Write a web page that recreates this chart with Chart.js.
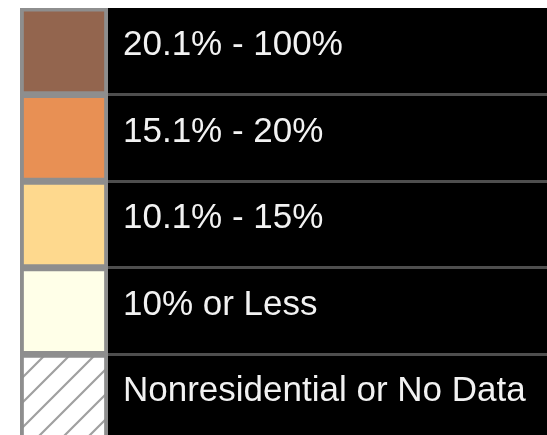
<!DOCTYPE html>
<html>
<head>
<meta charset="utf-8">
<script src="https://cdn.jsdelivr.net/npm/chart.js@4/dist/chart.umd.min.js"></script>
<style>
  html, body { margin: 0; padding: 0; background: #fff; overflow: hidden; }
  #wrap { width: 547px; height: 441px; }
</style>
</head>
<body>
<div id="wrap"><canvas id="myChart" width="547" height="441"></canvas></div>
<script>
// legend classes, top to bottom
var labels = ["20.1% - 100%", "15.1% - 20%", "10.1% - 15%", "10% or Less", "Nonresidential or No Data"];
var swatchColors = ["#93654e", "#e89054", "#fed98e", "#ffffe8", "hatch"];
var swatchValues = [1, 1, 1, 1, 1];

function makeHatch(ctx) {
    var c = document.createElement("canvas");
    c.width = 25; c.height = 25;
    var p = c.getContext("2d");
    p.fillStyle = "#ffffff";
    p.fillRect(0, 0, 25, 25);
    p.strokeStyle = "#a0a0a0";
    p.lineWidth = 2.2;
    p.beginPath();
    p.moveTo(-2, 27); p.lineTo(27, -2);
    p.moveTo(-5, 5); p.lineTo(5, -5);
    p.moveTo(20, 30); p.lineTo(30, 20);
    p.stroke();
    return ctx.createPattern(c, "repeat");
}

var canvas = document.getElementById("myChart");
var ctx = canvas.getContext("2d");
var hatch = makeHatch(ctx);

var fills = [];
for (var i = 0; i < swatchColors.length; i++) {
    fills.push(swatchColors[i] == "hatch" ? hatch : swatchColors[i]);
}

var backdrop = {
    id: "backdrop",
    beforeDraw: function (chart) {
        var c = chart.ctx, a = chart.chartArea;
        c.save();
        c.fillStyle = "#ffffff";
        c.fillRect(0, 0, chart.width, chart.height);
        c.fillStyle = "#000000";
        c.fillRect(a.right, a.top, chart.width - a.right, chart.height - a.top);
        c.fillStyle = "#8e8e8e";
        c.fillRect(a.left, a.top, a.right - a.left, a.bottom - a.top);
        c.restore();
    }
};

var myNewChart = new Chart(ctx, {
    type: "bar",
    data: {
        labels: labels,
        datasets: [{
            data: swatchValues,
            backgroundColor: fills,
            borderWidth: 0,
            categoryPercentage: 1,
            barPercentage: 0.92
        }]
    },
    options: {
        indexAxis: "y",
        responsive: false,
        animation: false,
        layout: { padding: { left: 20, top: 8, right: 0, bottom: 0 } },
        plugins: { legend: { display: false }, tooltip: { enabled: false } },
        scales: {
            x: { display: false, min: -0.048, max: 1.048 },
            y: {
                position: "right",
                border: { display: false },
                grid: {
                    drawOnChartArea: false,
                    drawTicks: true,
                    tickLength: 439,
                    lineWidth: 3,
                    color: function (c) { return c.index === 0 ? "rgba(0,0,0,0)" : "#4e4e4e"; }
                },
                ticks: {
                    color: "#f2f2f2",
                    padding: -424,
                    labelOffset: -6,
                    font: { family: "'Liberation Sans', Arial, sans-serif", size: 35 }
                },
                afterFit: function (scale) { scale.width = 439; }
            }
        }
    },
    plugins: [backdrop]
});
</script>
</body>
</html>
